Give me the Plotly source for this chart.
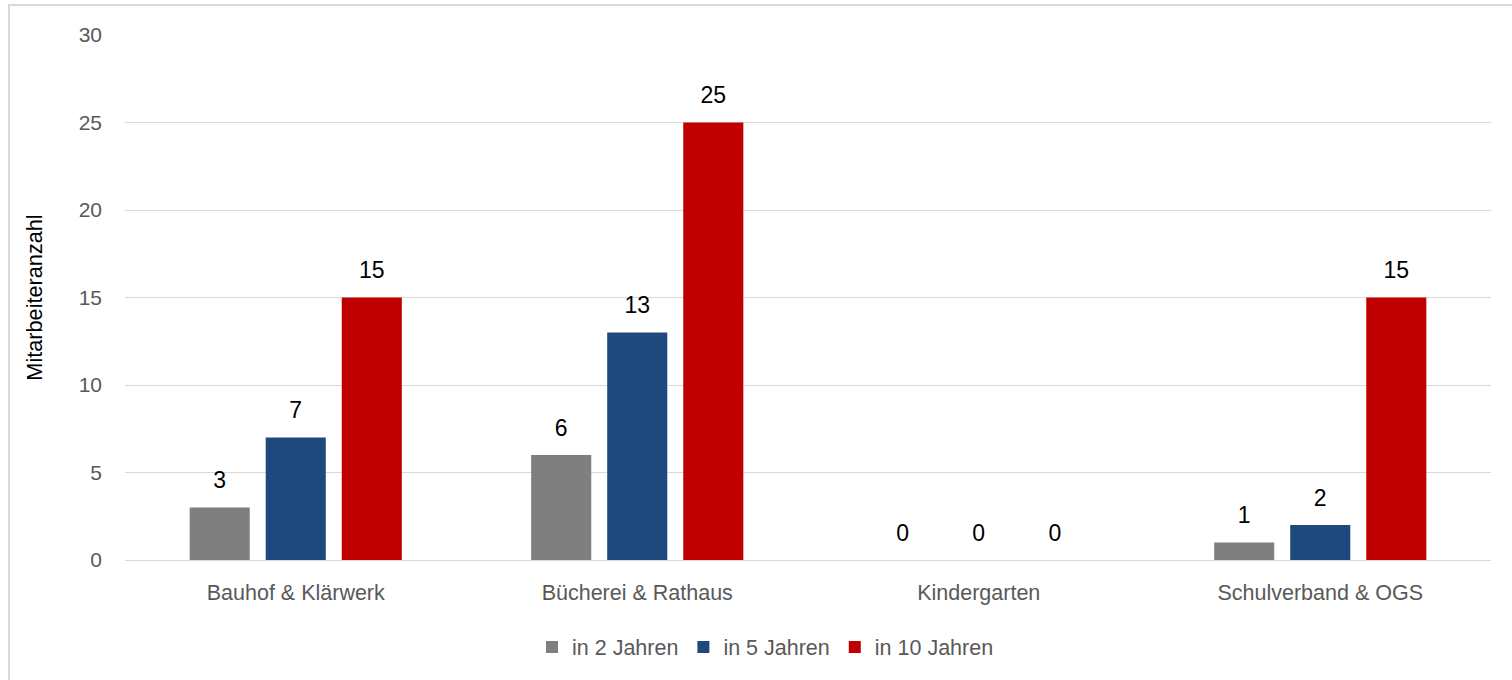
import plotly.graph_objects as go

categories = ["Bauhof & Klärwerk", "Bücherei & Rathaus", "Kindergarten", "Schulverband & OGS"]
series_names = ["in 2 Jahren", "in 5 Jahren", "in 10 Jahren"]
vals_2 = [3, 6, 0, 1]
vals_5 = [7, 13, 0, 2]
vals_10 = [15, 25, 0, 15]
colors = ["#7f7f7f", "#1f497d", "#c00000"]
y_ticks = [0, 5, 10, 15, 20, 25, 30]

FONT = "Liberation Sans Narrow, Arial Narrow, Liberation Sans, Arial, sans-serif"
W, H = 1512, 680
ML, MR, MT, MB = 125, 21, 35, 120

fig = go.Figure()
for i, (name, vals) in enumerate(zip(series_names, [vals_2, vals_5, vals_10])):
    fig.add_trace(go.Bar(
        x=categories, y=vals, name=name, marker_color=colors[i],
        marker_line_width=0, offsetgroup=str(i),
    ))
for i, vals in enumerate([vals_2, vals_5, vals_10]):
    fig.add_trace(go.Scatter(
        x=categories, y=vals, mode="markers+text", text=[str(v) for v in vals],
        textposition="top center", offsetgroup=str(i), showlegend=False,
        marker=dict(size=20, opacity=0), hoverinfo="skip", cliponaxis=False,
        textfont=dict(family=FONT, size=23, color="#000000"),
    ))

pw = W - ML - MR
ph = H - MT - MB
def px_x(p):
    return (p - ML) / pw
def px_y(p):
    return (H - MB - p) / ph

fig.update_layout(
    width=W, height=H,
    margin=dict(l=ML, r=MR, t=MT, b=MB, pad=0),
    paper_bgcolor="white", plot_bgcolor="white",
    barmode="group", bargap=0.332, bargroupgap=0.21,
    scattermode="group", scattergap=0.332,
    font=dict(family=FONT, size=21, color="#595959"),
    showlegend=True,
    legend=dict(orientation="h", xref="container", x=532/W, xanchor="left",
                yref="container", y=1 - 647/H, yanchor="middle",
                font=dict(family=FONT, size=21.5, color="#595959"),
                itemwidth=30, tracegroupgap=0, bgcolor="rgba(0,0,0,0)"),
    xaxis=dict(showgrid=False, showline=True, linecolor="#d9d9d9", linewidth=1,
               ticks="", ticklabelstandoff=13, tickfont=dict(size=21.5, color="#595959")),
    yaxis=dict(range=[0, 30], tickvals=y_ticks, showgrid=True, gridcolor="#d9d9d9",
               gridwidth=1, zeroline=False, showline=False, ticks="",
               ticklabelstandoff=22, tickfont=dict(size=21, color="#595959")),
    shapes=[dict(type="rect", xref="paper", yref="paper",
                 x0=px_x(9), x1=px_x(W + 20), y0=px_y(H + 20), y1=px_y(5),
                 line=dict(color="#d9d9d9", width=2), fillcolor="rgba(0,0,0,0)", layer="below")],
)
fig.update_yaxes(title=dict(text="Mitarbeiteranzahl", standoff=30,
                            font=dict(family=FONT, size=21.7, color="#000000")))

fig.write_html("out.html")
